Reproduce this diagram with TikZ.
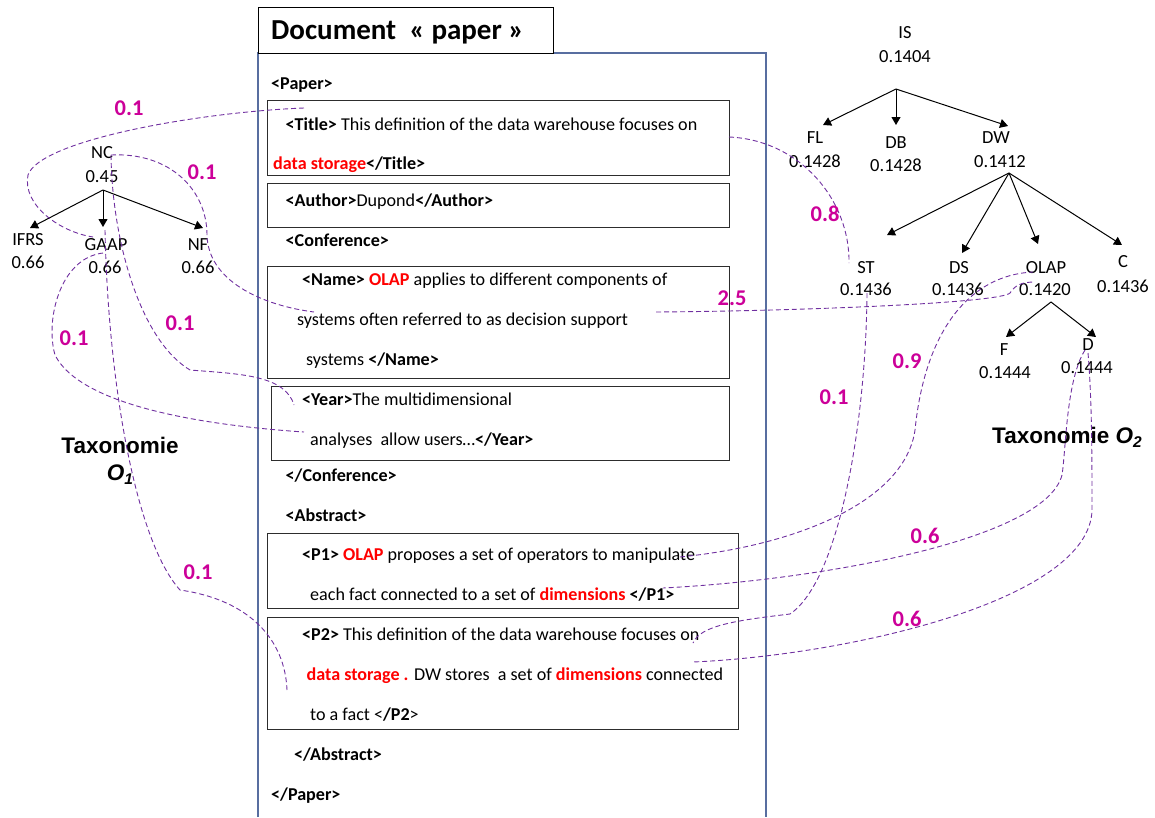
\documentclass[tikz,border=0pt]{standalone}
\usepackage{fontspec}
\setmainfont{Carlito}
\newfontfamily\arialfont{Liberation Sans}
\usetikzlibrary{arrows.meta}
\definecolor{framec}{RGB}{88,110,160}
\definecolor{boxc}{RGB}{45,45,45}
\definecolor{linkc}{RGB}{112,48,160}
\definecolor{numc}{RGB}{204,0,153}
\definecolor{hot}{RGB}{255,0,0}
\newcommand{\redb}[1]{\textcolor{hot}{\textbf{#1}}}
\newcommand{\osub}[2]{{\itshape #1\raisebox{-4pt}{\fontsize{15.5}{15.5}\selectfont #2}}}
\tikzset{
  doc/.style={anchor=base west, inner sep=0pt, font=\fontsize{18.1}{22}\selectfont},
  xmlbox/.style={draw=boxc, line width=1.2pt, anchor=north west, inner sep=0pt},
  tx/.style={anchor=base, inner sep=0pt, font=\fontsize{18.5}{22}\selectfont},
  isa/.style={-{Triangle[length=8pt,width=9pt]}, line width=1pt},
  link/.style={draw=linkc, line width=0.9pt, dash pattern=on 5pt off 3pt},
  wt/.style={text=numc, font=\fontsize{22.5}{25}\selectfont\bfseries, inner sep=0pt},
  taxo/.style={font=\arialfont\bfseries\fontsize{22.5}{25}\selectfont, inner sep=0pt, anchor=base}
}
\begin{document}
\begin{tikzpicture}[x=1pt,y=-1pt]
\useasboundingbox (0,0) rectangle (1155,817);

% ---------- document frame ----------
\draw[framec, line width=1.3pt] (258,817) |- (766,53) -- (766,817);
\node[draw=black, fill=white, line width=1.3pt, anchor=north west, inner sep=0pt,
      minimum width=295pt, minimum height=46.5pt] (doctitle) at (258,6.5) {};
\node[anchor=base west, inner sep=0pt, font=\fontsize{29}{32}\selectfont\bfseries]
      (doctitle-t) at (271,39) {Document\hspace{0.45em}« paper »};

% element boxes
\node[xmlbox, minimum width=462pt, minimum height=75pt]  (titlebox)  at (267,100) {};
\node[xmlbox, minimum width=462pt, minimum height=44pt]  (authorbox) at (267,183) {};
\node[xmlbox, minimum width=462pt, minimum height=112.5pt] (namebox) at (267,265.5) {};
\node[xmlbox, minimum width=458pt, minimum height=74pt]  (yearbox)   at (271,386) {};
\node[xmlbox, minimum width=471pt, minimum height=75pt]  (p1box)     at (267,533) {};
\node[xmlbox, minimum width=471pt, minimum height=112.5pt] (p2box)   at (267,616.5) {};

% XML text
\node[doc] (paper-o) at (271,89.5) {\textbf{<Paper>}};
\node[doc] (title-1) at (285.5,130) {\textbf{<Title>} This definition of the data warehouse focuses on};
\node[doc] (title-2) at (273,169) {\redb{data storage}\textbf{</Title>}};
\node[doc] (author)  at (285.5,206) {\textbf{<Author>}Dupond\textbf{</Author>}};
\node[doc] (conf-o)  at (285.5,246) {\textbf{<Conference>}};
\node[doc] (name-1)  at (302,285.5) {\textbf{<Name>} \redb{OLAP} applies to different components of};
\node[doc] (name-2)  at (297,325) {systems often referred to as decision support};
\node[doc] (name-3)  at (306,365) {systems \textbf{</Name>}};
\node[doc] (year-1)  at (302,405) {\textbf{<Year>}The multidimensional};
\node[doc] (year-2)  at (310,445) {analyses\ \ allow users…\textbf{</Year>}};
\node[doc] (conf-c)  at (285.5,481) {\textbf{</Conference>}};
\node[doc] (abs-o)   at (285.5,521) {\textbf{<Abstract>}};
\node[doc] (p1-1)    at (302,560.5) {\textbf{<P1>} \redb{OLAP} proposes a set of operators to manipulate};
\node[doc] (p1-2)    at (310,600) {each fact connected to a set of \redb{dimensions} \textbf{</P1>}};
\node[doc] (p2-1)    at (302,640) {\textbf{<P2>} This definition of the data warehouse focuses on};
\node[doc] (p2-2)    at (306.5,680) {\redb{data storage .} DW stores\ \ a set of \redb{dimensions} connected};
\node[doc] (p2-3)    at (310,720.5) {to a fact <\textbf{/P2}>};
\node[doc] (abs-c)   at (294,760) {\textbf{</Abstract>}};
\node[doc] (paper-c) at (271,800) {\textbf{</Paper>}};

% ---------- taxonomy O1 ----------
\node[tx] (nc)    at (102,158) {NC};
\node[tx] (ncv)   at (102,182) {0.45};
\node[tx] (ifrs)  at (28,245)  {IFRS};
\node[tx] (ifrsv) at (28,268)  {0.66};
\node[tx] (gaap)  at (106,250) {GAAP};
\node[tx] (gaapv) at (105,273) {0.66};
\node[tx] (nf)    at (198,250) {NF};
\node[tx] (nfv)   at (198,273) {0.66};
\draw[isa] ([shift={(1pt,-8pt)}]ncv.base) -- ([shift={(2pt,17pt)}]ifrs.base);
\draw[isa] ([shift={(1pt,-8pt)}]ncv.base) -- ([shift={(-3pt,23pt)}]gaap.base);
\draw[isa] ([shift={(1pt,-8pt)}]ncv.base) -- ([shift={(5pt,22pt)}]nf.base);
\node[taxo] (o1a) at (120,453) {Taxonomie};
\node[taxo] (o1b) at (120,480) {\osub{O}{1}};

% ---------- taxonomy O2 ----------
\node[tx] (is)    at (905,38)   {IS};
\node[tx] (isv)   at (905,62)   {0.1404};
\node[tx] (fl)    at (815,143)  {FL};
\node[tx] (flv)   at (815,167)  {0.1428};
\node[tx] (db)    at (896,148)  {DB};
\node[tx] (dbv)   at (896,171)  {0.1428};
\node[tx] (dw)    at (996,143)  {DW};
\node[tx] (dwv)   at (1000,167) {0.1412};
\node[tx] (st)    at (866,273)  {ST};
\node[tx] (stv)   at (866,295)  {0.1436};
\node[tx] (ds)    at (959,273)  {DS};
\node[tx] (dsv)   at (958,295)  {0.1436};
\node[tx] (olap)  at (1046,273) {OLAP};
\node[tx] (olapv) at (1045,295) {0.1420};
\node[tx] (c)     at (1123,267) {C};
\node[tx] (cv)    at (1123,292) {0.1436};
\node[tx] (f)     at (1004,355) {F};
\node[tx] (fv)    at (1005,378) {0.1444};
\node[tx] (d)     at (1088,350) {D};
\node[tx] (dv)    at (1087,373) {0.1444};
\draw[isa] ([shift={(-9pt,-27pt)}]isv.base) -- ([shift={(8pt,18pt)}]fl.base);
\draw[isa] ([shift={(-9pt,-27pt)}]isv.base) -- ([shift={(0pt,23pt)}]db.base);
\draw[isa] ([shift={(-9pt,-27pt)}]isv.base) -- ([shift={(12pt,17pt)}]dw.base);
\draw[isa] ([shift={(9pt,-6pt)}]dwv.base) -- ([shift={(21pt,38pt)}]st.base);
\draw[isa] ([shift={(9pt,-6pt)}]dwv.base) -- ([shift={(3pt,20pt)}]ds.base);
\draw[isa] ([shift={(9pt,-6pt)}]dwv.base) -- ([shift={(-8pt,29pt)}]olap.base);
\draw[isa] ([shift={(9pt,-6pt)}]dwv.base) -- ([shift={(-1pt,22pt)}]c.base);
\draw[isa] ([shift={(6pt,-7pt)}]olapv.base) -- ([shift={(2pt,18pt)}]f.base);
\draw[isa] ([shift={(6pt,-7pt)}]olapv.base) -- ([shift={(8pt,13pt)}]d.base);
\node[taxo, anchor=base west] (o2) at (992,443) {Taxonomie \osub{O}{2}};

% ---------- similarity links ----------
\coordinate (titleL) at (304,108);
\coordinate (titleR) at (729,137);
\coordinate (nameL)  at (314,312);
\coordinate (nameR)  at (656,312);
\coordinate (yearA)  at (294,405);
\coordinate (yearB)  at (304,432);
\coordinate (p1a)    at (680,557);
\coordinate (p1b)    at (663,588);
\coordinate (p2a)    at (693,643);
\coordinate (p2b)    at (693,662);
\coordinate (p2c)    at (287,690);
\coordinate (nc-r)   at (111,155);
\coordinate (gaap-t) at (93,237);
\coordinate (gaap-b) at (105,230);
\coordinate (gaapv-t) at (103,253);
\coordinate (st-t)   at (849,263);
\coordinate (st-b)   at (867,293);
\coordinate (olap-a) at (1035,282);
\coordinate (olap-b) at (1033,272);
\coordinate (d-a)    at (1085,350);
\coordinate (d-b)    at (1088,353);

\draw[link] (titleL) .. controls (200,112) and (40,140) .. (28,175)
            .. controls (22,205) and (60,232) .. (gaap-t);
\draw[link] (nc-r) .. controls (170,152) and (207,190) .. (207,235)
            .. controls (208,280) and (260,305) .. (nameL);
\draw[link] (nc-r) .. controls (112,240) and (140,340) .. (190,370)
            .. controls (240,374) and (285,375) .. (yearA);
\draw[link] (gaap-b) .. controls (108,380) and (135,540) .. (180,590)
            .. controls (250,600) and (285,640) .. (p2c);
\draw[link] (gaapv-t) .. controls (60,258) and (45,320) .. (55,355)
            .. controls (80,405) and (200,425) .. (yearB);
\draw[link] (titleR) .. controls (800,140) and (850,200) .. (st-t);
\draw[link] (nameR) .. controls (800,311) and (1000,303) .. (1010,293)
            .. controls (1015,285) and (1022,282) .. (olap-a);
\draw[link] (p1a) .. controls (800,545) and (905,500) .. (915,430)
            .. controls (925,330) and (970,275) .. (olap-b);
\draw[link] (st-b) .. controls (866,420) and (840,580) .. (790,614)
            .. controls (740,620) and (700,625) .. (p2a);
\draw[link] (d-a) .. controls (1066,380) and (1066,450) .. (1062,475)
            .. controls (1045,540) and (820,580) .. (p1b);
\draw[link] (d-b) .. controls (1092,400) and (1092,460) .. (1092,510)
            .. controls (1090,600) and (850,655) .. (p2b);

% link weights
\node[wt] (w1)  at (129,108) {0.1};
\node[wt] (w2)  at (202,172) {0.1};
\node[wt] (w3)  at (825,214) {0.8};
\node[wt] (w4)  at (732,298) {2.5};
\node[wt] (w5)  at (74,338)  {0.1};
\node[wt] (w6)  at (180,323) {0.1};
\node[wt] (w7)  at (907,361) {0.9};
\node[wt] (w8)  at (834,397) {0.1};
\node[wt] (w9)  at (925,536) {0.6};
\node[wt] (w10) at (907,619) {0.6};
\node[wt] (w11) at (198,572) {0.1};
\end{tikzpicture}
\end{document}
